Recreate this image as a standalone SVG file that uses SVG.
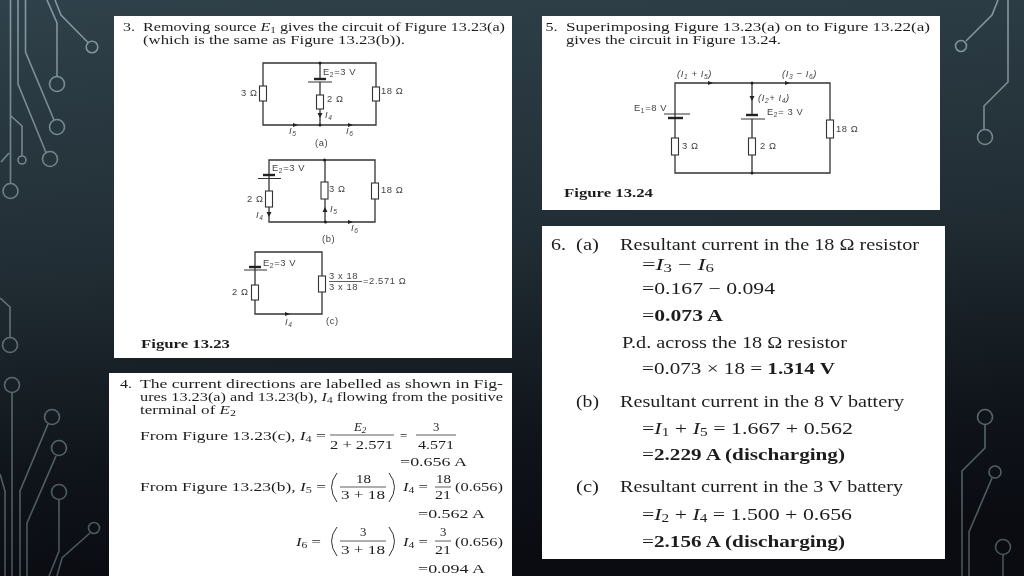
<svg xmlns="http://www.w3.org/2000/svg" width="1024" height="576" viewBox="0 0 1024 576">
<defs>
<linearGradient id="bg" x1="0" y1="0" x2="0.12" y2="1"><stop offset="0" stop-color="#2f414a"/><stop offset="0.45" stop-color="#222e35"/><stop offset="0.8" stop-color="#10151b"/><stop offset="1" stop-color="#0a0c12"/></linearGradient>
<linearGradient id="ln" gradientUnits="userSpaceOnUse" x1="0" y1="0" x2="0" y2="576"><stop offset="0" stop-color="#8298a3"/><stop offset="1" stop-color="#465357"/></linearGradient>
<filter id="soft" x="-2%" y="-2%" width="104%" height="104%"><feGaussianBlur stdDeviation="0.35"/></filter>
</defs>
<style>
.deco{fill:none;stroke:url(#ln);stroke-width:1.6}
.panel{fill:#fff}
.t{font-family:"Liberation Serif","Times New Roman",serif;font-size:12.8px;fill:#1f1f1f}
.b{font-weight:bold}
.d{font-family:"Liberation Serif","Times New Roman",serif;font-size:17.5px;fill:#1f1f1f}
.i{font-style:italic}
.s{font-size:70%}
.c{font-family:"Liberation Sans",Arial,sans-serif;font-size:9.4px;letter-spacing:0.6px;fill:#444}
.w{fill:none;stroke:#333;stroke-width:1.3}
.r{fill:#fff;stroke:#333;stroke-width:1.1}
.tk{stroke:#222;stroke-width:2.4;fill:none}
.th{stroke:#333;stroke-width:1;fill:none}
.bar{stroke:#333;stroke-width:0.8}
.par{fill:none;stroke:#333;stroke-width:1}
.dot{fill:#222}
</style>
<rect width="1024" height="576" fill="url(#bg)"/>
<g id="decoration">
<path class="deco" d="M10.5 0V183.5M18 0V84L46 152.500M25.500 0V52L54 120M47 0L57 23V76.500M55 0L61 15L88 42.500M11 116L22 126V156M9 153L1 162"/>
<circle class="deco" cx="10.500" cy="191" r="7.500"/><circle class="deco" cx="50" cy="159" r="7.500"/><circle class="deco" cx="57" cy="127" r="7.500"/><circle class="deco" cx="57" cy="84" r="7.500"/><circle class="deco" cx="92" cy="47" r="5.800"/><circle class="deco" cx="22" cy="160" r="4"/>
<path class="deco" d="M998 0L992 15L966 41M1008 0V82L984 106V130"/>
<circle class="deco" cx="961" cy="46" r="5.500"/><circle class="deco" cx="985" cy="137" r="7.500"/>
<path class="deco" d="M0 298L10 307V337.500M12 392.500V576M48 424L20 491V576M56 456L27 523V576M59 499.500V551L49 576M90 533L62 558L57 576M0 474L5 491V576"/>
<circle class="deco" cx="10" cy="345" r="7.500"/><circle class="deco" cx="12" cy="385" r="7.500"/><circle class="deco" cx="52" cy="417" r="7.500"/><circle class="deco" cx="59" cy="448" r="7.500"/><circle class="deco" cx="59" cy="492" r="7.500"/><circle class="deco" cx="94" cy="528" r="5.500"/>
<path class="deco" d="M985 424.500V448L962 471V576M992 478L969 532V576M1003 554.500V576"/>
<circle class="deco" cx="985" cy="417" r="7.500"/><circle class="deco" cx="995" cy="472" r="6"/><circle class="deco" cx="1003" cy="547" r="7.500"/>
</g>
<g id="panel-3" filter="url(#soft)">
<rect class="panel" x="114" y="16" width="398" height="342"/>
<text class="t" x="123" y="31" textLength="12" lengthAdjust="spacingAndGlyphs">3.</text>
<text class="t" x="143" y="31" textLength="362" lengthAdjust="spacingAndGlyphs">Removing source <tspan class="i">E</tspan><tspan class="s" dy="1.500">1</tspan><tspan dy="-1.500"> gives the circuit of Figure 13.23(a)</tspan></text>
<text class="t" x="143" y="44" textLength="262" lengthAdjust="spacingAndGlyphs">(which is the same as Figure 13.23(b)).</text>
<g id="circuit-a">
<path class="w" d="M263 63H376V125H263ZM320 63V79M320 82V125"/>
<path class="tk" d="M314 79H326"/><path class="th" d="M308 82H332"/>
<rect class="r" x="316.500" y="95" width="7" height="14"/><rect class="r" x="259.500" y="86" width="7" height="15"/><rect class="r" x="372.500" y="87" width="7" height="14"/>
<circle class="dot" cx="320" cy="63" r="1.500"/><circle class="dot" cx="320" cy="125" r="1.500"/>
<path d="M317.500 113L322.500 113L320 118Z" class="dot"/><path d="M293 123L298 125L293 127Z" class="dot"/><path d="M348 123L353 125L348 127Z" class="dot"/>
<text class="c" x="323" y="75">E<tspan class="s" dy="1.500">2</tspan><tspan dy="-1.500">=3 V</tspan></text>
<text class="c" x="241" y="96">3 Ω</text><text class="c" x="327" y="102">2 Ω</text><text class="c" x="381" y="94">18 Ω</text>
<text class="c i" x="325" y="118">I<tspan class="s" dy="1.500">4</tspan></text><text class="c i" x="289" y="134">I<tspan class="s" dy="1.500">5</tspan></text><text class="c i" x="346" y="134">I<tspan class="s" dy="1.500">6</tspan></text>
<text class="c" x="315" y="146">(a)</text>
</g>
<g id="circuit-b">
<path class="w" d="M269 160H375V222H269ZM269 160V175M269 178V222M325 160V222"/>
<path class="tk" d="M263 175H275"/><path class="th" d="M258 178.500H281"/>
<rect class="r" x="265.500" y="191" width="7" height="16"/><rect class="r" x="321" y="182" width="7" height="17"/><rect class="r" x="371.500" y="183" width="7" height="16"/>
<circle class="dot" cx="324.500" cy="160" r="1.500"/><circle class="dot" cx="325.500" cy="222" r="1.500"/>
<path class="dot" d="M266.500 212L271.500 212L269 217Z"/><path class="dot" d="M322.500 212L327.500 212L325 207Z"/><path class="dot" d="M348 220L353 222L348 224Z"/>
<text class="c" x="272" y="171">E<tspan class="s" dy="1.500">2</tspan><tspan dy="-1.500">=3 V</tspan></text>
<text class="c" x="247" y="202">2 Ω</text><text class="c" x="329" y="192">3 Ω</text><text class="c" x="381" y="193">18 Ω</text>
<text class="c i" x="256" y="218">I<tspan class="s" dy="1.500">4</tspan></text><text class="c i" x="330" y="212">I<tspan class="s" dy="1.500">5</tspan></text><text class="c i" x="351" y="231">I<tspan class="s" dy="1.500">6</tspan></text>
<text class="c" x="322" y="242">(b)</text>
</g>
<g id="circuit-c">
<path class="w" d="M255 252H322V314H255ZM255 252V267M255 270V314"/>
<path class="tk" d="M249 267H261"/><path class="th" d="M244 270H267"/>
<rect class="r" x="251.500" y="285" width="7" height="15"/><rect class="r" x="318.500" y="276" width="7" height="16"/>
<path class="dot" d="M285 312L290 314L285 316Z"/>
<text class="c" x="263" y="266">E<tspan class="s" dy="1.500">2</tspan><tspan dy="-1.500">=3 V</tspan></text>
<text class="c" x="232" y="295">2 Ω</text>
<text class="c" x="329" y="279">3 x 18</text><path class="bar" d="M329 281.500H362"/><text class="c" x="329" y="290">3 x 18</text><text class="c" x="363" y="284">=2.571 Ω</text>
<text class="c i" x="285" y="325">I<tspan class="s" dy="1.500">4</tspan></text><text class="c" x="326" y="324">(c)</text>
</g>
<text class="t b" x="141" y="348" textLength="89" lengthAdjust="spacingAndGlyphs">Figure 13.23</text>
</g>
<g id="panel-5" filter="url(#soft)">
<rect class="panel" x="542" y="16" width="398" height="194"/>
<text class="t" x="545.500" y="31" textLength="12" lengthAdjust="spacingAndGlyphs">5.</text>
<text class="t" x="566" y="31" textLength="364" lengthAdjust="spacingAndGlyphs">Superimposing Figure 13.23(a) on to Figure 13.22(a)</text>
<text class="t" x="566" y="44" textLength="215" lengthAdjust="spacingAndGlyphs">gives the circuit in Figure 13.24.</text>
<g id="circuit-13-24">
<path class="w" d="M675 83H830V173H675ZM675 83V114M675 118V173M752 83V115M752 119V173"/>
<path class="th" d="M664 114H690"/><path class="tk" d="M668 118H683"/>
<path class="tk" d="M746 115H758"/><path class="th" d="M741 119H765"/>
<rect class="r" x="671.500" y="138" width="7" height="17"/><rect class="r" x="748.500" y="138" width="7" height="17"/><rect class="r" x="826.500" y="120" width="7" height="18"/>
<circle class="dot" cx="752" cy="83" r="1.500"/><circle class="dot" cx="752" cy="173" r="1.500"/>
<path class="dot" d="M708 81L713 83L708 85Z"/><path class="dot" d="M785 81L790 83L785 85Z"/><path class="dot" d="M749.500 96H754.500L752 101Z"/>
<text class="c i" x="677" y="77">(I<tspan class="s" dy="1.500">1</tspan><tspan dy="-1.500"> + I</tspan><tspan class="s" dy="1.500">5</tspan><tspan dy="-1.500">)</tspan></text>
<text class="c i" x="782" y="77">(I<tspan class="s" dy="1.500">3</tspan><tspan dy="-1.500"> − I</tspan><tspan class="s" dy="1.500">6</tspan><tspan dy="-1.500">)</tspan></text>
<text class="c i" x="758" y="101">(I<tspan class="s" dy="1.500">2</tspan><tspan dy="-1.500">+ I</tspan><tspan class="s" dy="1.500">4</tspan><tspan dy="-1.500">)</tspan></text>
<text class="c" x="634" y="111">E<tspan class="s" dy="1.500">1</tspan><tspan dy="-1.500">=8 V</tspan></text>
<text class="c" x="767" y="115">E<tspan class="s" dy="1.500">2</tspan><tspan dy="-1.500">= 3 V</tspan></text>
<text class="c" x="682" y="149">3 Ω</text><text class="c" x="760" y="149">2 Ω</text><text class="c" x="836" y="132">18 Ω</text>
</g>
<text class="t b" x="564" y="197" textLength="89" lengthAdjust="spacingAndGlyphs">Figure 13.24</text>
</g>
<g id="panel-4" filter="url(#soft)">
<rect class="panel" x="109" y="373" width="403" height="203"/>
<text class="t" x="120" y="388" textLength="12" lengthAdjust="spacingAndGlyphs">4.</text>
<text class="t" x="140" y="388" textLength="363" lengthAdjust="spacingAndGlyphs">The current directions are labelled as shown in Fig-</text>
<text class="t" x="140" y="401" textLength="363" lengthAdjust="spacingAndGlyphs">ures 13.23(a) and 13.23(b), <tspan class="i">I</tspan><tspan class="s" dy="1.500">4</tspan><tspan dy="-1.500"> flowing from the positive</tspan></text>
<text class="t" x="140" y="414" textLength="96" lengthAdjust="spacingAndGlyphs">terminal of <tspan class="i">E</tspan><tspan class="s" dy="1.500">2</tspan></text>
<text class="t" x="140" y="440" textLength="186" lengthAdjust="spacingAndGlyphs">From Figure 13.23(c), <tspan class="i">I</tspan><tspan class="s" dy="1.500">4</tspan><tspan dy="-1.500"> =</tspan></text>
<text class="t i" x="354" y="431">E<tspan class="s" dy="1.500">2</tspan></text><path class="bar" d="M330 435H394"/><text class="t" x="330" y="449" textLength="63" lengthAdjust="spacingAndGlyphs">2 + 2.571</text>
<text class="t" x="400" y="440">=</text>
<text class="t" x="433" y="431">3</text><path class="bar" d="M416 435H456"/><text class="t" x="418" y="449" textLength="36" lengthAdjust="spacingAndGlyphs">4.571</text>
<text class="t" x="400" y="466" textLength="67" lengthAdjust="spacingAndGlyphs">=0.656 A</text>
<text class="t" x="140" y="491" textLength="186" lengthAdjust="spacingAndGlyphs">From Figure 13.23(b), <tspan class="i">I</tspan><tspan class="s" dy="1.500">5</tspan><tspan dy="-1.500"> =</tspan></text>
<path class="par" d="M337 473Q326 487 337 502M389 473Q400 487 389 502"/>
<text class="t" x="356" y="483" textLength="15" lengthAdjust="spacingAndGlyphs">18</text><path class="bar" d="M340 487H386"/><text class="t" x="341" y="499" textLength="44" lengthAdjust="spacingAndGlyphs">3 + 18</text>
<text class="t" x="403" y="491" textLength="25" lengthAdjust="spacingAndGlyphs"><tspan class="i">I</tspan><tspan class="s" dy="1.500">4</tspan><tspan dy="-1.500"> =</tspan></text>
<text class="t" x="436" y="483" textLength="15" lengthAdjust="spacingAndGlyphs">18</text><path class="bar" d="M435 487H451"/><text class="t" x="435" y="499" textLength="16" lengthAdjust="spacingAndGlyphs">21</text>
<text class="t" x="455" y="491" textLength="48" lengthAdjust="spacingAndGlyphs">(0.656)</text>
<text class="t" x="418" y="518" textLength="67" lengthAdjust="spacingAndGlyphs">=0.562 A</text>
<text class="t" x="296" y="546" textLength="25" lengthAdjust="spacingAndGlyphs"><tspan class="i">I</tspan><tspan class="s" dy="1.500">6</tspan><tspan dy="-1.500"> =</tspan></text>
<path class="par" d="M337 527Q326 541 337 556M389 527Q400 541 389 556"/>
<text class="t" x="360" y="536">3</text><path class="bar" d="M340 541H386"/><text class="t" x="341" y="554" textLength="44" lengthAdjust="spacingAndGlyphs">3 + 18</text>
<text class="t" x="403" y="546" textLength="25" lengthAdjust="spacingAndGlyphs"><tspan class="i">I</tspan><tspan class="s" dy="1.500">4</tspan><tspan dy="-1.500"> =</tspan></text>
<text class="t" x="440" y="536">3</text><path class="bar" d="M435 541H451"/><text class="t" x="435" y="554" textLength="16" lengthAdjust="spacingAndGlyphs">21</text>
<text class="t" x="455" y="546" textLength="48" lengthAdjust="spacingAndGlyphs">(0.656)</text>
<text class="t" x="418" y="573" textLength="67" lengthAdjust="spacingAndGlyphs">=0.094 A</text>
</g>
<g id="panel-6" filter="url(#soft)">
<rect class="panel" x="542" y="226" width="403" height="333"/>
<text class="d" x="551" y="250" textLength="15" lengthAdjust="spacingAndGlyphs">6.</text><text class="d" x="576" y="250" textLength="23" lengthAdjust="spacingAndGlyphs">(a)</text>
<text class="d" x="620" y="250" textLength="299" lengthAdjust="spacingAndGlyphs">Resultant current in the 18 Ω resistor</text>
<text class="d" x="642" y="270" textLength="72" lengthAdjust="spacingAndGlyphs">=<tspan class="i">I</tspan><tspan class="s" dy="2">3</tspan><tspan dy="-2"> − </tspan><tspan class="i">I</tspan><tspan class="s" dy="2">6</tspan></text>
<text class="d" x="642" y="294" textLength="133" lengthAdjust="spacingAndGlyphs">=0.167 − 0.094</text>
<text class="d" x="642" y="321" textLength="81" lengthAdjust="spacingAndGlyphs">=<tspan class="b">0.073 A</tspan></text>
<text class="d" x="622" y="348" textLength="225" lengthAdjust="spacingAndGlyphs">P.d. across the 18 Ω resistor</text>
<text class="d" x="642" y="374" textLength="193" lengthAdjust="spacingAndGlyphs">=0.073 × 18 = <tspan class="b">1.314 V</tspan></text>
<text class="d" x="576" y="407" textLength="23" lengthAdjust="spacingAndGlyphs">(b)</text>
<text class="d" x="620" y="407" textLength="284" lengthAdjust="spacingAndGlyphs">Resultant current in the 8 V battery</text>
<text class="d" x="642" y="434" textLength="211" lengthAdjust="spacingAndGlyphs">=<tspan class="i">I</tspan><tspan class="s" dy="2">1</tspan><tspan dy="-2"> + </tspan><tspan class="i">I</tspan><tspan class="s" dy="2">5</tspan><tspan dy="-2"> = 1.667 + 0.562</tspan></text>
<text class="d" x="642" y="460" textLength="203" lengthAdjust="spacingAndGlyphs">=<tspan class="b">2.229 A (discharging)</tspan></text>
<text class="d" x="576" y="492" textLength="23" lengthAdjust="spacingAndGlyphs">(c)</text>
<text class="d" x="620" y="492" textLength="283" lengthAdjust="spacingAndGlyphs">Resultant current in the 3 V battery</text>
<text class="d" x="642" y="520" textLength="210" lengthAdjust="spacingAndGlyphs">=<tspan class="i">I</tspan><tspan class="s" dy="2">2</tspan><tspan dy="-2"> + </tspan><tspan class="i">I</tspan><tspan class="s" dy="2">4</tspan><tspan dy="-2"> = 1.500 + 0.656</tspan></text>
<text class="d" x="642" y="547" textLength="203" lengthAdjust="spacingAndGlyphs">=<tspan class="b">2.156 A (discharging)</tspan></text>
</g>
</svg>
